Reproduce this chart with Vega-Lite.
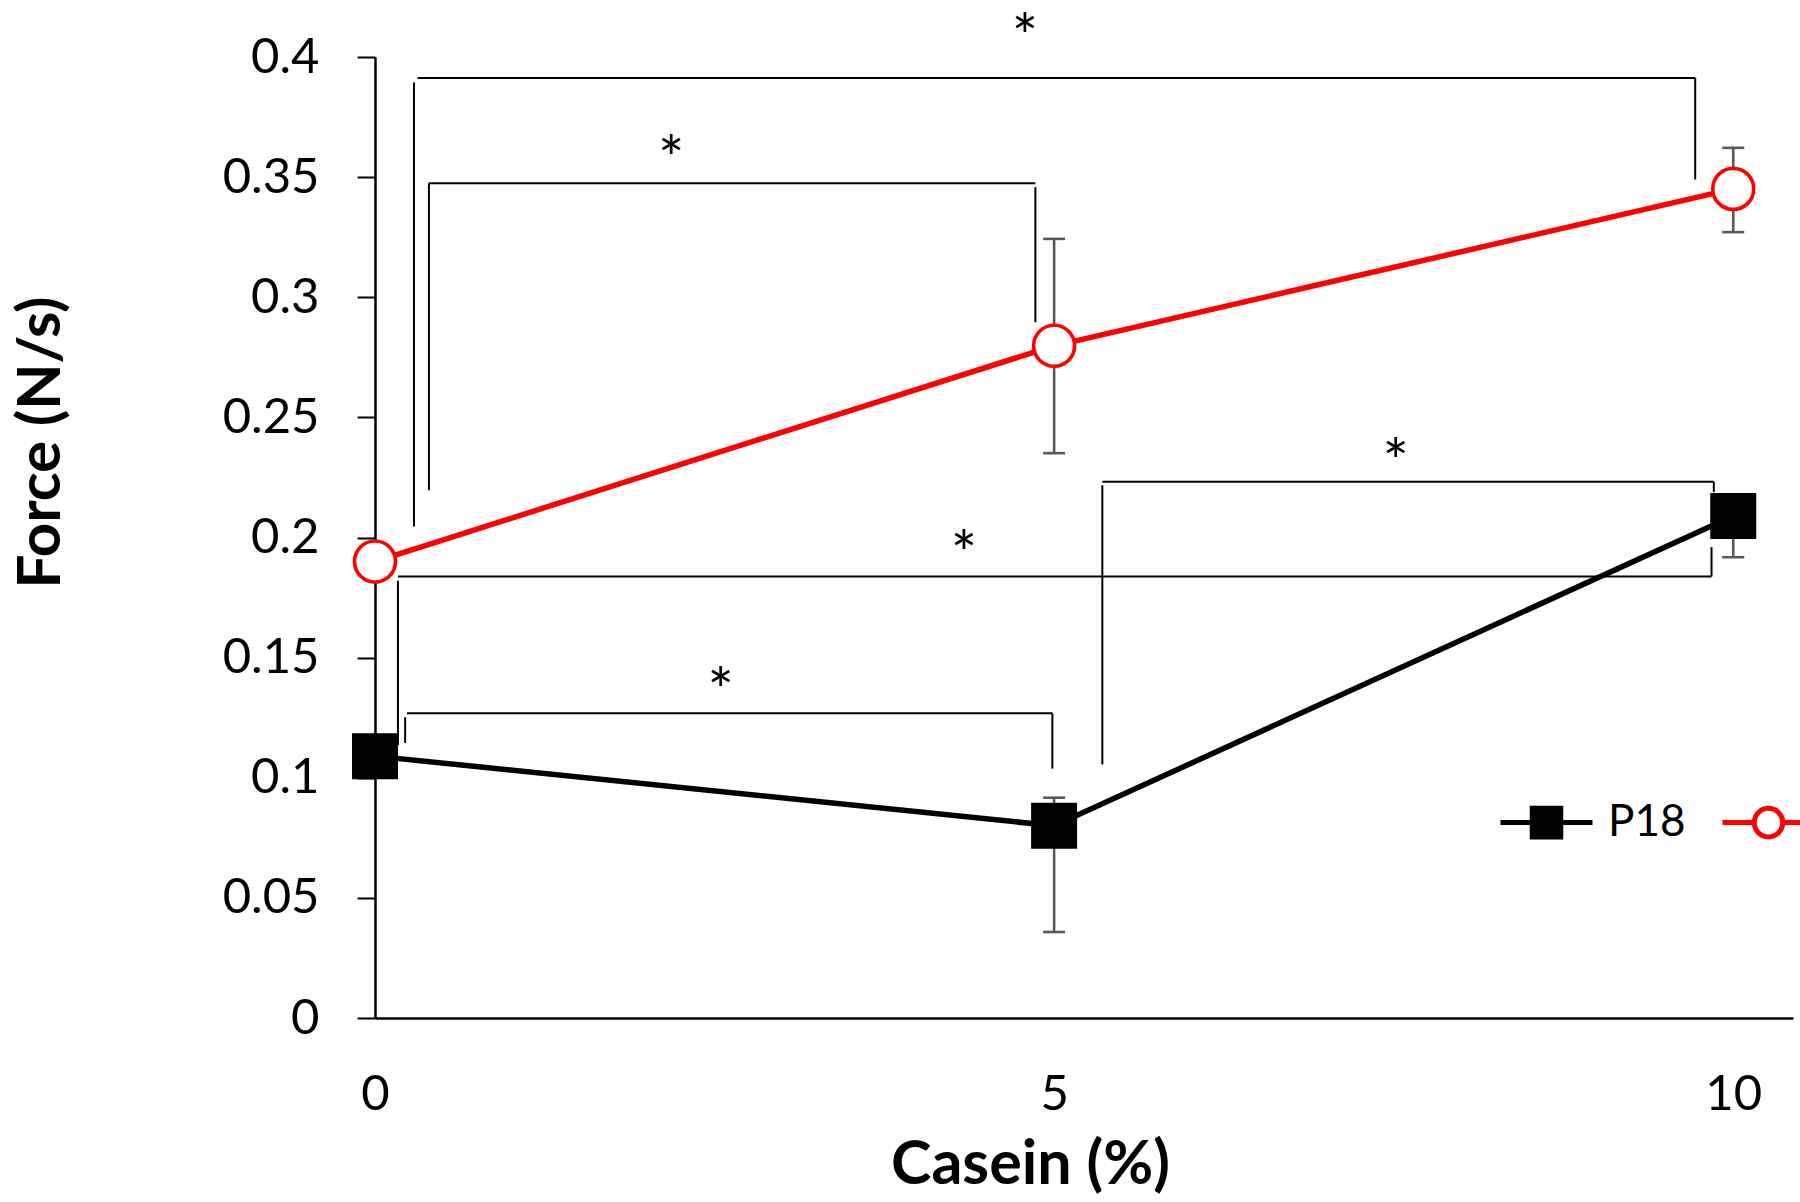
{
  "$schema": "https://vega.github.io/schema/vega-lite/v6.json",
  "width": 1418,
  "height": 961,
  "autosize": {"type": "none"},
  "padding": {"left": 375, "top": 57, "right": 7, "bottom": 184},
  "background": "white",
  "config": {"view": {"stroke": null}, "font": "Lato"},
  "datasets": {
    "points": [
      {"series": "P18", "x": 0, "y": 0.109, "lo": 0.103, "hi": 0.115},
      {"series": "P18", "x": 5, "y": 0.080, "lo": 0.0358, "hi": 0.0917},
      {"series": "P18", "x": 10, "y": 0.209, "lo": 0.1918, "hi": 0.217},
      {"series": "Series 2", "x": 0, "y": 0.190, "lo": 0.184, "hi": 0.196},
      {"series": "Series 2", "x": 5, "y": 0.2798, "lo": 0.2351, "hi": 0.3243},
      {"series": "Series 2", "x": 10, "y": 0.3451, "lo": 0.3271, "hi": 0.3622}
    ],
    "brackets": [
      {"x": 0.313, "x2": 9.72, "y": 0.3913, "y2": 0.3913},
      {"x": 0.287, "x2": 0.287, "y": 0.3894, "y2": 0.2046},
      {"x": 9.72, "x2": 9.72, "y": 0.3913, "y2": 0.349},
      {"x": 0.397, "x2": 4.862, "y": 0.3475, "y2": 0.3475},
      {"x": 0.397, "x2": 0.397, "y": 0.3475, "y2": 0.2197},
      {"x": 4.862, "x2": 4.862, "y": 0.3458, "y2": 0.2896},
      {"x": 0.169, "x2": 9.84, "y": 0.1838, "y2": 0.1838},
      {"x": 0.169, "x2": 0.169, "y": 0.182, "y2": 0.1136},
      {"x": 9.84, "x2": 9.84, "y": 0.1838, "y2": 0.196},
      {"x": 5.355, "x2": 9.857, "y": 0.2232, "y2": 0.2232},
      {"x": 5.355, "x2": 5.355, "y": 0.2218, "y2": 0.1055},
      {"x": 9.857, "x2": 9.857, "y": 0.2232, "y2": 0.2189},
      {"x": 0.235, "x2": 4.987, "y": 0.1268, "y2": 0.1268},
      {"x": 0.222, "x2": 0.222, "y": 0.1252, "y2": 0.1145},
      {"x": 4.987, "x2": 4.987, "y": 0.1268, "y2": 0.1038}
    ],
    "stars": [
      {"x": 4.785, "y": 0.4155, "label": "*"},
      {"x": 2.18, "y": 0.3645, "label": "*"},
      {"x": 4.336, "y": 0.2004, "label": "*"},
      {"x": 7.515, "y": 0.2387, "label": "*"},
      {"x": 2.545, "y": 0.143, "label": "*"}
    ]
  },
  "encoding": {
    "x": {
      "field": "x",
      "type": "quantitative",
      "title": "Casein (%)",
      "scale": {"domain": [0, 10.44], "nice": false, "zero": false},
      "axis": {
        "values": [0, 5, 10],
        "ticks": false,
        "tickSize": 0,
        "grid": false,
        "domainColor": "black",
        "domainWidth": 2.5,
        "labelFont": "Lato",
        "labelFontSize": 49,
        "labelColor": "black",
        "labelPadding": 76,
        "labelBaseline": "middle",
        "labelFlush": false,
        "labelOverlap": false,
        "title": "Casein (%)",
        "titleFont": "Lato",
        "titleFontSize": 61,
        "titleFontWeight": "bold",
        "titleColor": "black",
        "titleX": 655,
        "titleY": 147,
        "titleAlign": "center",
        "titleBaseline": "middle"
      }
    },
    "y": {
      "field": "y",
      "type": "quantitative",
      "title": "Force (N/s)",
      "scale": {"domain": [0, 0.4], "nice": false},
      "axis": {
        "values": [0, 0.05, 0.1, 0.15, 0.2, 0.25, 0.3, 0.35, 0.4],
        "format": "~g",
        "tickSize": 18,
        "tickWidth": 2,
        "tickColor": "black",
        "grid": false,
        "domainColor": "black",
        "domainWidth": 2.5,
        "labelFont": "Lato",
        "labelFontSize": 49,
        "labelColor": "black",
        "labelPadding": 38,
        "labelFlush": false,
        "labelOverlap": false,
        "title": "Force (N/s)",
        "titleFont": "Lato",
        "titleFontSize": 60,
        "titleFontWeight": "bold",
        "titleColor": "black",
        "titleAngle": -90,
        "titleX": -334,
        "titleY": 385,
        "titleAlign": "center",
        "titleBaseline": "middle"
      }
    }
  },
  "layer": [
    {
      "data": {"name": "brackets"},
      "mark": {"type": "rule", "stroke": "black", "strokeWidth": 2},
      "encoding": {
        "x2": {"field": "x2"},
        "y2": {"field": "y2"}
      }
    },
    {
      "data": {"name": "points"},
      "mark": {"type": "rule", "stroke": "#595959", "strokeWidth": 2.6},
      "encoding": {
        "y": {"field": "lo", "type": "quantitative", "title": "Force (N/s)", "scale": {"domain": [0, 0.4], "nice": false}},
        "y2": {"field": "hi"}
      }
    },
    {
      "data": {"name": "points"},
      "mark": {"type": "tick", "orient": "horizontal", "color": "#595959", "size": 22, "thickness": 2.6, "opacity": 1},
      "encoding": {
        "y": {"field": "lo", "type": "quantitative", "title": "Force (N/s)", "scale": {"domain": [0, 0.4], "nice": false}}
      }
    },
    {
      "data": {"name": "points"},
      "mark": {"type": "tick", "orient": "horizontal", "color": "#595959", "size": 22, "thickness": 2.6, "opacity": 1},
      "encoding": {
        "y": {"field": "hi", "type": "quantitative", "title": "Force (N/s)", "scale": {"domain": [0, 0.4], "nice": false}}
      }
    },
    {
      "data": {"name": "points"},
      "mark": {"type": "line", "strokeWidth": 5.5},
      "encoding": {
        "color": {
          "field": "series",
          "type": "nominal",
          "scale": {"domain": ["P18", "Series 2"], "range": ["black", "red"]},
          "legend": {
            "orient": "none",
            "legendX": 1123,
            "legendY": 717,
            "direction": "horizontal",
            "title": null,
            "padding": 0,
            "symbolSize": 8464,
            "symbolStrokeWidth": 5,
            "symbolType": "M-1,0H1",
            "labelFont": "Lato",
            "labelFontSize": 44,
            "labelColor": "black",
            "labelOffset": 13,
            "columnPadding": 26,
            "labelExpr": "datum.value == 'P18' ? 'P18' : ''",
            "encode": {
              "symbols": {
                "update": {
                  "shape": {"signal": "datum.value == 'P18' ? 'M-1,0H-0.31M0.31,0H1M-0.31,-0.31H0.31V0.31H-0.31Z' : 'M-1,0H-0.31M0.31,0H1M-0.31,0A0.31,0.31,0,1,1,0.31,0A0.31,0.31,0,1,1,-0.31,0Z'"},
                  "fill": {"signal": "datum.value == 'P18' ? 'black' : 'white'"},
                  "stroke": {"signal": "datum.value == 'P18' ? 'black' : 'red'"},
                  "opacity": {"value": 1},
                  "fillOpacity": {"value": 1},
                  "strokeOpacity": {"value": 1}
                }
              }
            }
          }
        }
      }
    },
    {
      "data": {"name": "points"},
      "transform": [{"filter": "datum.series == 'P18'"}],
      "mark": {"type": "square", "size": 2116, "color": "black", "filled": true, "opacity": 1}
    },
    {
      "data": {"name": "points"},
      "transform": [{"filter": "datum.series != 'P18'"}],
      "mark": {"type": "point", "shape": "circle", "size": 1681, "fill": "white", "stroke": "red", "strokeWidth": 3.6, "filled": true, "opacity": 1}
    },
    {
      "data": {"name": "stars"},
      "mark": {"type": "text", "font": "Lato", "fontSize": 62, "color": "black", "baseline": "middle", "align": "center", "dy": 20, "clip": false},
      "encoding": {
        "text": {"field": "label"}
      }
    }
  ]
}
